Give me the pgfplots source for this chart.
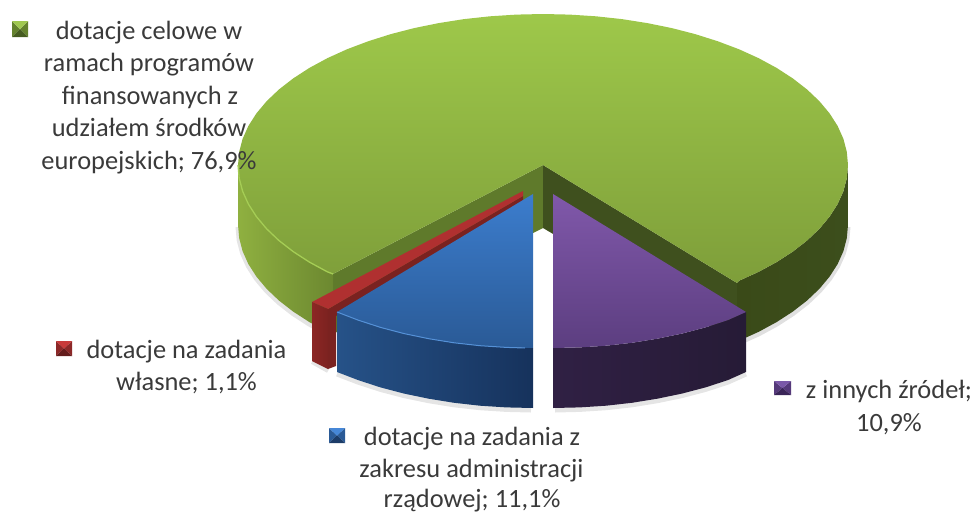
\documentclass[border=0pt]{standalone}
\usepackage{pgfplots}
\pgfplotsset{compat=1.18}
\usepackage{fontspec}
\setmainfont{Carlito}
\definecolor{txt}{HTML}{3A3A3A}
\definecolor{gInL}{RGB}{95,122,43}
\definecolor{gInR}{RGB}{63,80,30}
\definecolor{gWLa}{RGB}{143,176,64}
\definecolor{gWLb}{RGB}{108,136,48}
\definecolor{gWRa}{RGB}{58,74,24}
\definecolor{gWRb}{RGB}{60,78,28}
\definecolor{gTa}{RGB}{158,200,74}
\definecolor{gTb}{RGB}{126,158,58}
\definecolor{gRim}{RGB}{165,205,85}
\definecolor{rDk}{RGB}{122,34,32}
\definecolor{rTop}{RGB}{176,48,48}
\definecolor{rFa}{RGB}{140,38,36}
\definecolor{rFb}{RGB}{124,34,32}
\definecolor{bWa}{RGB}{38,82,136}
\definecolor{bWb}{RGB}{22,50,92}
\definecolor{bTa}{RGB}{60,125,205}
\definecolor{bTb}{RGB}{42,90,150}
\definecolor{bRim}{RGB}{85,145,215}
\definecolor{pWa}{RGB}{48,32,68}
\definecolor{pWb}{RGB}{38,27,54}
\definecolor{pTa}{RGB}{128,88,170}
\definecolor{pTb}{RGB}{92,62,128}
\definecolor{k1a}{RGB}{160,200,80}\definecolor{k1b}{RGB}{100,130,45}\definecolor{k1c}{RGB}{70,92,32}
\definecolor{k2a}{RGB}{200,58,58}\definecolor{k2b}{RGB}{140,40,40}\definecolor{k2c}{RGB}{100,28,28}
\definecolor{k3a}{RGB}{70,135,215}\definecolor{k3b}{RGB}{42,90,150}\definecolor{k3c}{RGB}{28,60,104}
\definecolor{k4a}{RGB}{122,88,168}\definecolor{k4b}{RGB}{85,57,122}\definecolor{k4c}{RGB}{58,37,88}
\newcommand{\keysq}[9]{%
 \addplot[draw=none,fill=#8] coordinates {(#1,#4)(#2,#5)(#1,#6)} -- cycle;
 \addplot[draw=none,fill=#8] coordinates {(#3,#4)(#2,#5)(#3,#6)} -- cycle;
 \addplot[draw=none,fill=#7] coordinates {(#1,#4)(#2,#5)(#3,#4)} -- cycle;
 \addplot[draw=none,fill=#9] coordinates {(#1,#6)(#2,#5)(#3,#6)} -- cycle;
}
\newcommand{\lab}[3]{\node[anchor=base,text=txt,inner sep=0pt,font=\fontsize{26.4}{32}\selectfont] at (axis cs:#1,#2) {#3};}
\begin{document}
\begin{tikzpicture}
\useasboundingbox (0,0) rectangle (974pt,514pt);
\begin{axis}[scale only axis,width=974pt,height=514pt,xmin=0,xmax=974,ymin=0,ymax=514,y dir=reverse,hide axis,clip=false,anchor=south west,at={(0,0)}]
% soft shadows
\addplot[black,opacity=.10,line width=5pt] coordinates {(238,227)(239.2,240.2)(242.6,253.2)(248.4,266.1)(256.4,278.6)(266.6,290.8)(278.9,302.5)(293.2,313.6)(309.4,324.1)(322,331)};
\addplot[black,opacity=.12,line width=5pt] coordinates {(848,227)(846.8,240.2)(843.4,253.2)(837.6,266.1)(829.6,278.6)(819.4,290.8)(807.1,302.5)(792.8,313.6)(776.6,324.1)(758.7,333.8)(745,340)};
\addplot[black,opacity=.10,line width=5pt] coordinates {(337,374)(358.1,382.1)(380.5,389.4)(404.1,395.6)(428.7,400.7)(454.1,404.8)(480,407.7)(506.4,409.4)(531,410)};
\addplot[black,opacity=.10,line width=5pt] coordinates {(555,410)(579.6,409.4)(606,407.7)(631.9,404.8)(657.3,400.7)(681.9,395.6)(705.5,389.4)(727.9,382.1)(746,374)};
\addplot[black,opacity=.10,line width=4pt] coordinates {(312,362)(328,371)};
\addplot[black,opacity=.10,line width=2pt] coordinates {(532,256)(532,408)};
\addplot[black,opacity=.10,line width=2pt] coordinates {(554,256)(554,408)};
% green inner walls
\addplot[draw=none,fill=gInL] coordinates {(543,165)(333,274)(333,334)(543,228)} -- cycle;
\addplot[draw=none,fill=gInR] coordinates {(543,165)(737,283)(737,343)(543,228)} -- cycle;
% green outer walls
\addplot[draw=none,left color=gWLa,right color=gWLb] coordinates {(238,165)(239.2,178.2)(242.6,191.2)(248.4,204.1)(256.4,216.6)(266.6,228.8)(278.9,240.5)(293.2,251.6)(309.4,262.1)(327.3,271.8)(333,274)(333,334)(327.3,331.8)(309.4,322.1)(293.2,311.6)(278.9,300.5)(266.6,288.8)(256.4,276.6)(248.4,264.1)(242.6,251.2)(239.2,238.2)(238,225)} -- cycle;
\addplot[draw=none,left color=gWRa,right color=gWRb] coordinates {(848,165)(846.8,178.2)(843.4,191.2)(837.6,204.1)(829.6,216.6)(819.4,228.8)(807.1,240.5)(792.8,251.6)(776.6,262.1)(758.7,271.8)(739.1,280.7)(737,283)(737,343)(739.1,340.7)(758.7,331.8)(776.6,322.1)(792.8,311.6)(807.1,300.5)(819.4,288.8)(829.6,276.6)(837.6,264.1)(843.4,251.2)(846.8,238.2)(848,225)} -- cycle;
% green top
\addplot[draw=none,top color=gTa,bottom color=gTb] coordinates {(543,165)(737,283)(739.1,280.7)(758.7,271.8)(776.6,262.1)(792.8,251.6)(807.1,240.5)(819.4,228.8)(829.6,216.6)(837.6,204.1)(843.4,191.2)(846.8,178.2)(848,165)(846.8,151.8)(843.4,138.8)(837.6,125.9)(829.6,113.4)(819.4,101.2)(807.1,89.5)(792.8,78.4)(776.6,67.9)(758.7,58.2)(739.1,49.3)(717.9,41.3)(695.5,34.2)(671.9,28.1)(647.3,23.1)(621.9,19.1)(596,16.3)(569.6,14.6)(543,14)(516.4,14.6)(490,16.3)(464.1,19.1)(438.7,23.1)(414.1,28.1)(390.5,34.2)(368.1,41.3)(346.9,49.3)(327.3,58.2)(309.4,67.9)(293.2,78.4)(278.9,89.5)(266.6,101.2)(256.4,113.4)(248.4,125.9)(242.6,138.8)(239.2,151.8)(238,165)(239.2,178.2)(242.6,191.2)(248.4,204.1)(256.4,216.6)(266.6,228.8)(278.9,240.5)(293.2,251.6)(309.4,262.1)(327.3,271.8)(333,274)} -- cycle;
\addplot[color=gRim,line width=1.3pt] coordinates {(238,165)(239.2,178.2)(242.6,191.2)(248.4,204.1)(256.4,216.6)(266.6,228.8)(278.9,240.5)(293.2,251.6)(309.4,262.1)(327.3,271.8)(333,274)};
% red slice
\addplot[draw=none,fill=rDk] coordinates {(523,196)(328,309)(328,369)(336,366)(336,316)(523,204)} -- cycle;
\addplot[draw=none,fill=rTop] coordinates {(523,191)(312,302)(328,309)(523,196)} -- cycle;
\addplot[draw=none,left color=rFa,right color=rFb] coordinates {(312,302)(328,309)(328,369)(312,361)} -- cycle;
% blue slice
\addplot[draw=none,left color=bWa,right color=bWb] coordinates {(337,312)(358.1,320.1)(380.5,327.4)(404.1,333.6)(428.7,338.7)(454.1,342.8)(480,345.7)(506.4,347.4)(533,348)(533,408)(506.4,407.4)(480,405.7)(454.1,402.8)(428.7,398.7)(404.1,393.6)(380.5,387.4)(358.1,380.1)(337,372)} -- cycle;
\addplot[draw=none,top color=bTa,bottom color=bTb] coordinates {(533,194)(337,312)(358.1,320.1)(380.5,327.4)(404.1,333.6)(428.7,338.7)(454.1,342.8)(480,345.7)(506.4,347.4)(533,348)} -- cycle;
\addplot[color=bRim,line width=1pt] coordinates {(337,312)(358.1,320.1)(380.5,327.4)(404.1,333.6)(428.7,338.7)(454.1,342.8)(480,345.7)(506.4,347.4)(525,348)};
% purple slice
\addplot[draw=none,left color=pWa,right color=pWb] coordinates {(553,348)(579.6,347.4)(606,345.7)(631.9,342.8)(657.3,338.7)(681.9,333.6)(705.5,327.4)(727.9,320.1)(746,312)(746,372)(727.9,380.1)(705.5,387.4)(681.9,393.6)(657.3,398.7)(631.9,402.8)(606,405.7)(579.6,407.4)(553,408)} -- cycle;
\addplot[draw=none,top color=pTa,bottom color=pTb] coordinates {(553,194)(746,312)(727.9,320.1)(705.5,327.4)(681.9,333.6)(657.3,338.7)(631.9,342.8)(606,345.7)(579.6,347.4)(553,348)} -- cycle;
% legend keys
\keysq{12}{20}{28}{21}{29}{37}{k1a}{k1b}{k1c}
\keysq{56}{64}{72}{341}{348.5}{356}{k2a}{k2b}{k2c}
\keysq{329}{337}{345}{428}{435.5}{443}{k3a}{k3b}{k3c}
\keysq{774}{782.5}{791}{381}{388}{395}{k4a}{k4b}{k4c}
% labels
\lab{149}{39}{dotacje celowe w}
\lab{149}{71}{ramach programów}
\lab{150}{104}{finansowanych z}
\lab{149}{136}{udziałem środków}
\lab{149}{169}{europejskich; 76,9\%}
\lab{186.5}{358}{dotacje na zadania}
\lab{186.5}{390}{własne; 1,1\%}
\lab{472}{445}{dotacje na zadania z}
\lab{471.5}{477}{zakresu administracji}
\lab{472}{507.5}{rządowej; 11,1\%}
\lab{889}{398}{z innych źródeł;}
\lab{889}{431}{10,9\%}
\end{axis}
\end{tikzpicture}
\end{document}
